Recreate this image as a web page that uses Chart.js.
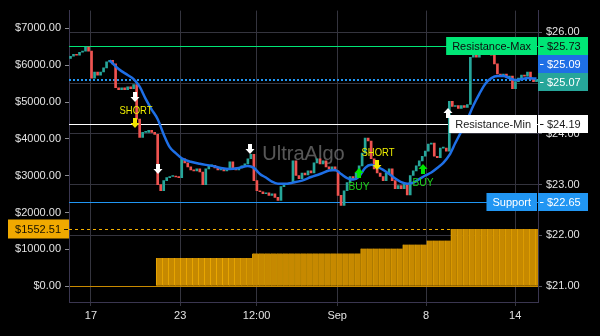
<!DOCTYPE html>
<html>
<head>
<meta charset="utf-8">
<script src="https://cdn.jsdelivr.net/npm/chart.js@4.4.1/dist/chart.umd.min.js"></script>
<style>
  html, body { margin: 0; padding: 0; background: #000; }
  canvas { display: block; }
</style>
</head>
<body>
<canvas id="c" width="600" height="336"></canvas>
<script>
// ---- price bars (one close per bar; each bar opens at the previous close) ----
const firstOpen = 25.49;
const closes = [
  25.53,25.57,25.55,25.61,25.63,25.71,25.63,25.10,25.22,25.16,
  25.22,25.30,25.42,25.45,25.38,24.91,24.87,24.91,24.87,24.93,
  24.89,24.97,24.29,23.93,24.03,24.03,24.07,24.03,23.99,23.00,
  22.88,23.08,23.14,23.16,23.16,23.15,23.14,23.51,23.43,23.35,
  23.29,23.27,23.31,23.25,23.00,23.31,23.37,23.38,23.33,23.29,
  23.31,23.27,23.31,23.45,23.33,23.29,23.33,23.37,23.41,23.51,
  23.60,23.08,22.88,22.86,22.82,22.84,22.79,22.82,22.75,22.69,
  22.96,23.00,23.02,23.04,23.47,23.18,23.12,23.23,23.19,23.27,
  23.23,23.43,23.51,23.41,23.47,23.35,23.31,23.35,23.27,22.79,
  22.59,22.88,23.04,23.16,23.12,23.23,23.37,23.62,23.92,23.86,
  23.51,23.31,23.23,23.16,23.08,23.23,23.31,23.08,22.92,22.98,
  22.92,23.02,22.80,23.18,23.27,23.37,23.47,23.56,23.66,23.80,
  23.82,23.56,23.53,23.72,23.72,23.66,24.64,24.54,24.56,24.50,
  24.56,24.52,24.58,25.51,25.57,25.51,25.57,25.61,25.63,25.57,
  25.55,25.38,25.18,25.16,25.18,25.12,25.14,24.89,25.03,25.10,
  25.16,25.14,25.22,25.08,25.03,25.07
];

// ---- moving average (bar index, value) ----
const maIndex = [13,16,19,21,23,25,27,29,31,33,35,37,40,43,47,50,53,56,59,61,
  63,65,67,69,72,74,77,80,83,86,88,90,92,94,96,98,100,102,104,106,
  108,110,112,114,116,118,120,122,124,126,128,130,132,134,136,138,140,142,144,146,
  148,150,152,155];
const maValues = [25.45,25.28,25.16,25.08,24.93,24.69,24.48,24.29,23.99,23.74,
  23.62,23.52,23.45,23.41,23.37,23.33,23.31,23.33,23.37,23.33,
  23.21,23.14,23.06,23.02,23.02,23.04,23.08,23.15,23.21,23.28,
  23.29,23.21,23.13,23.10,23.16,23.33,23.39,23.35,23.29,23.21,
  23.12,23.05,23.02,23.04,23.11,23.18,23.24,23.33,23.43,23.58,
  23.82,24.05,24.29,24.56,24.79,24.99,25.10,25.14,25.14,25.10,
  25.06,25.08,25.10,25.09];

// ---- account equity (one column per two bars, starting at bar 29.5) ----
const equityStart = 29.5;
const equityValues = [
  762,762,762,762,762,762,762,762,762,762,762,762,762,762,762,762,
  889,889,889,889,889,889,889,889,889,889,889,889,889,889,889,889,889,889,
  1023,1023,1023,1023,1023,1023,1023,
  1131,1131,1131,1131,
  1239,1239,1239,1239,
  1552.51,1552.51,1552.51,1552.51,1552.51,1552.51,1552.51,1552.51,
  1552.51,1552.51,1552.51,1552.51,1552.51,1552.51,1552.51
];

// ---- levels ----
const resistanceMax = 25.73;
const resistanceMin = 24.19;
const supportLevel = 22.65;

// ---- trade signals (bar index, price at arrow tip, kind) ----
const signalIndex = [21.5, 21.5, 29.1, 59.7, 96, 102, 117.3, 125.6];
const signalPrice = [24.63, 24.11, 23.21, 23.60, 23.32, 23.29, 23.40, 24.52];
const signalKind  = ['exit', 'short', 'exit', 'exit', 'buy', 'short', 'buy', 'up'];

// ---- axis ticks ----
const timeTicks = [6.8, 36.5, 61.9, 88.7, 118.3, 147.9];
const timeLabels = ['17', '23', '12:00', 'Sep', '8', '14'];
const priceTicks = [21, 22, 23, 24, 25, 26];
const equityTicks = [0, 1000, 2000, 3000, 4000, 5000, 6000, 7000];

// ---------------------------------------------------------------------------
const UP = '#26a69a', DOWN = '#ef5350';
const FONT = '"Liberation Sans", Arial, sans-serif';
const lastClose = closes[closes.length - 1];
const maLast = maValues[maValues.length - 1];
const equityLast = equityValues[equityValues.length - 1];

const bodies = closes.map((c, i) => {
  const o = i === 0 ? firstOpen : closes[i - 1];
  return { x: i, y: [o, c] };
});
const bodyColors = closes.map((c, i) => {
  const o = i === 0 ? firstOpen : closes[i - 1];
  return c >= o ? UP : DOWN;
});
const maPoints = maIndex.map((x, k) => ({ x, y: maValues[k] }));
const equityPoints = equityValues.map((v, k) => ({ x: equityStart + 2 * k, y: v }));

function hline(ctx, a, y, color, width, dash) {
  ctx.save();
  ctx.strokeStyle = color;
  ctx.lineWidth = width;
  ctx.setLineDash(dash);
  const yy = width % 2 ? Math.round(y) + 0.5 : Math.round(y);
  ctx.beginPath();
  ctx.moveTo(a.left, yy);
  ctx.lineTo(a.right, yy);
  ctx.stroke();
  ctx.restore();
}

function arrow(ctx, x, tip, dir, color) {
  // dir 1: pointing down, -1: pointing up
  ctx.fillStyle = color;
  ctx.beginPath();
  ctx.moveTo(x, tip);
  ctx.lineTo(x - 4.5, tip - 5 * dir);
  ctx.lineTo(x + 4.5, tip - 5 * dir);
  ctx.closePath();
  ctx.fill();
  ctx.fillRect(x - 2, dir > 0 ? tip - 10 : tip + 5, 4, 5);
}

const overlay = {
  id: 'overlay',
  beforeDatasetsDraw(chart) {
    const { ctx, chartArea: a, scales } = chart;
    const y = scales.y, y2 = scales.y2;
    ctx.save();
    ctx.font = '20px ' + FONT;
    ctx.fillStyle = 'rgba(255,255,255,0.34)';
    ctx.textAlign = 'center';
    ctx.textBaseline = 'middle';
    ctx.fillText('UltraAlgo', (a.left + a.right) / 2, (a.top + a.bottom) / 2 - 2);
    ctx.restore();

    hline(ctx, a, y.getPixelForValue(resistanceMax), '#00e676', 1, []);
    hline(ctx, a, y.getPixelForValue(resistanceMin), '#ffffff', 1, []);
    hline(ctx, a, y.getPixelForValue(supportLevel), '#2196f3', 1, []);
    hline(ctx, a, y.getPixelForValue(lastClose), '#2196f3', 2, [2, 2]);
    hline(ctx, a, y2.getPixelForValue(equityLast), '#f5b000', 1, [3, 3]);
  },
  afterDatasetsDraw(chart) {
    const { ctx, scales } = chart;
    const x = scales.x, y = scales.y;
    ctx.save();
    ctx.textAlign = 'center';
    ctx.textBaseline = 'middle';
    ctx.font = '11px ' + FONT;
    signalIndex.forEach((idx, k) => {
      const px = Math.round(x.getPixelForValue(idx));
      const tip = Math.round(y.getPixelForValue(signalPrice[k]));
      const kind = signalKind[k];
      if (kind === 'exit') arrow(ctx, px, tip, 1, '#ffffff');
      else if (kind === 'up') arrow(ctx, px, tip, -1, '#ffffff');
      else if (kind === 'short') {
        arrow(ctx, px, tip, 1, '#f2e600');
        ctx.fillStyle = '#eeee00';
        ctx.fillText('SHORT', px + 1, tip - 17, 33);
      } else if (kind === 'buy') {
        arrow(ctx, px, tip, -1, '#00e600');
        ctx.fillStyle = '#1ed41e';
        ctx.fillText('BUY', px, tip + 18.5, 21);
      }
    });
    ctx.restore();
  },
  afterDraw(chart) {
    const { ctx, chartArea: a, scales } = chart;
    const y = scales.y, y2 = scales.y2;
    const H = 18;
    const tags = [
      { v: resistanceMax, title: 'Resistance-Max', bg: '#00e676', fg: '#0d0d0d' },
      { v: maLast, bg: '#1e6fe6', fg: '#ffffff' },
      { v: lastClose, bg: UP, fg: '#ffffff' },
      { v: resistanceMin, title: 'Resistance-Min', bg: '#ffffff', fg: '#1a1a1a' },
      { v: supportLevel, title: 'Support', bg: '#2196f3', fg: '#ffffff' }
    ];
    tags.forEach(t => { t.want = y.getPixelForValue(t.v); t.at = t.want; });
    tags.sort((p, q) => p.want - q.want);
    // keep tags from overlapping: push upward from the bottom,
    // then move each touching group back down so its top tag sits on its level
    for (let k = tags.length - 2; k >= 0; k--) tags[k].at = Math.min(tags[k].at, tags[k + 1].at - H);
    for (let k = 0; k < tags.length; k++) {
      const isHead = k === 0 || tags[k].at - tags[k - 1].at > H + 0.01;
      if (isHead && tags[k].at < tags[k].want) {
        const shift = tags[k].want - tags[k].at;
        let j = k;
        do { tags[j].at += shift; j++; } while (j < tags.length && tags[j].at - (tags[j - 1].at - shift) <= H + 0.01);
      }
    }
    ctx.save();
    ctx.font = '11px ' + FONT;
    ctx.textBaseline = 'middle';
    tags.forEach(t => {
      const cy = Math.round(t.at);
      ctx.fillStyle = t.bg;
      ctx.fillRect(a.right, cy - H / 2, 50, H);
      ctx.fillStyle = t.fg;
      ctx.fillRect(a.right + 2, cy, 3.5, 1);
      ctx.textAlign = 'left';
      ctx.fillText('$' + t.v.toFixed(2), a.right + 9, cy + 0.5);
      if (t.title) {
        const w = ctx.measureText(t.title).width + 12;
        ctx.fillStyle = t.bg;
        ctx.fillRect(a.right - 1 - w, cy - H / 2, w, H);
        ctx.fillStyle = t.fg;
        ctx.textAlign = 'center';
        ctx.fillText(t.title, a.right - 1 - w / 2, cy + 0.5);
      }
    });
    // equity tag on the left axis
    const ey = Math.round(y2.getPixelForValue(equityLast));
    ctx.fillStyle = '#f0a900';
    ctx.fillRect(a.left - 61, ey - 9.5, 61, 19);
    ctx.fillStyle = '#1a1400';
    ctx.fillRect(a.left - 5, ey, 4, 1);
    ctx.textAlign = 'right';
    ctx.fillText('$' + equityLast.toFixed(2), a.left - 8, ey + 0.5);
    ctx.restore();
  }
};

const GRID = '#34343e';
const BORDER = '#3a3650';
const TICKTXT = '#e2e2e2';

new Chart(document.getElementById('c'), {
  type: 'bar',
  data: {
    datasets: [
      {
        type: 'line',
        data: maPoints,
        yAxisID: 'y',
        borderColor: '#1e6fe6',
        borderWidth: 2.5,
        pointRadius: 0,
        cubicInterpolationMode: 'monotone',
        order: 0
      },
      {
        type: 'bar',
        data: bodies,
        yAxisID: 'y',
        backgroundColor: bodyColors,
        barThickness: 2,
        minBarLength: 1,
        grouped: false,
        borderWidth: 0,
        order: 1
      },
      {
        type: 'bar',
        data: equityPoints,
        yAxisID: 'y2',
        backgroundColor: '#c68900',
        borderColor: '#eaa700',
        borderWidth: { left: 1, right: 0, top: 0, bottom: 0 },
        borderSkipped: false,
        barThickness: 6,
        grouped: false,
        clip: 0,
        order: 2
      }
    ]
  },
  options: {
    responsive: false,
    animation: false,
    events: [],
    devicePixelRatio: 1,
    layout: { padding: { top: 8, left: 0, right: 0, bottom: 0 } },
    plugins: { legend: { display: false }, tooltip: { enabled: false } },
    scales: {
      x: {
        type: 'linear',
        position: 'bottom',
        offset: false,
        min: -0.5,
        max: closes.length - 0.5,
        afterBuildTicks: s => { s.ticks = timeTicks.map(v => ({ value: v })); },
        afterFit: s => { s.height = 34; },
        ticks: {
          autoSkip: false,
          maxRotation: 0,
          padding: 3,
          color: TICKTXT,
          font: { family: FONT, size: 11 },
          callback: (v, i) => timeLabels[i]
        },
        grid: { color: GRID, tickLength: 4, offset: false },
        border: { display: true, color: BORDER }
      },
      y: {
        position: 'right',
        min: 20.6875,
        max: 26.43,
        afterBuildTicks: s => { s.ticks = priceTicks.map(v => ({ value: v })); },
        afterFit: s => { s.width = 62; },
        ticks: {
          padding: 4,
          color: TICKTXT,
          font: { family: FONT, size: 11 },
          callback: v => '$' + Number(v).toFixed(2)
        },
        grid: {
          color: c => (c.tick && c.tick.value === 21 ? '#c98a00' : GRID),
          tickColor: '#55555f',
          tickLength: 4
        },
        border: { display: true, color: BORDER }
      },
      y2: {
        position: 'left',
        min: -430.8,
        max: 7484.6,
        afterBuildTicks: s => { s.ticks = equityTicks.map(v => ({ value: v })); },
        afterFit: s => { s.width = 69; },
        ticks: {
          padding: 4,
          color: TICKTXT,
          font: { family: FONT, size: 11 },
          callback: v => '$' + Number(v).toFixed(2)
        },
        grid: { drawOnChartArea: false, color: '#8a8a90', tickLength: 4 },
        border: { display: true, color: BORDER }
      }
    }
  },
  plugins: [overlay]
});
</script>
</body>
</html>
